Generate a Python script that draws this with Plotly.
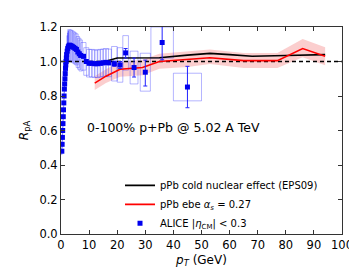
import plotly.graph_objects as go

# ---------------- data ----------------
alice_pt = [0.3, 0.4, 0.5, 0.6, 0.7, 0.8, 0.9, 1.0, 1.1, 1.2, 1.3, 1.4, 1.5, 1.6, 1.7, 1.8, 1.9, 2.0,
            2.2, 2.4, 2.6, 2.8,
            3.0, 3.5, 4.0, 4.5, 5.0, 5.5, 6.0, 6.5, 7.0,
            8.0, 9.0, 10.0, 11.0, 12.0, 13.0, 14.0, 15.0, 16.0, 17.0,
            19.0, 21.0, 23.0, 26.0, 30.0, 36.0, 45.0]
alice_r = [0.48, 0.52, 0.56, 0.60, 0.64, 0.68, 0.72, 0.76, 0.80, 0.84, 0.87, 0.90, 0.93, 0.96, 0.98, 1.00, 1.02, 1.04,
           1.06, 1.075, 1.085, 1.09,
           1.095, 1.092, 1.088, 1.082, 1.076, 1.07, 1.055, 1.045, 1.035,
           1.03, 1.0, 0.99, 0.99, 0.987, 0.987, 0.99, 0.992, 0.995, 0.992,
           0.987, 0.98, 1.05, 0.965, 0.938, 1.11, 0.852]
alice_stat_up = [0.005]*18 + [0.005]*4 + [0.006]*9 + [0.01]*10 + [0.015, 0.02, 0.025, 0.055, 0.07, 0.12, 0.12]
alice_stat_dn = [0.005]*18 + [0.005]*4 + [0.006]*9 + [0.01]*10 + [0.015, 0.02, 0.03, 0.055, 0.08, 0.10, 0.12]
alice_sys = [0.02]*18 + [0.09]*4 + [0.09]*9 + [0.08]*10 + [0.1, 0.1, 0.1, 0.095, 0.11, 0.09, 0.08]
alice_halfwidth = [0.05]*18 + [0.1]*4 + [0.6]*9 + [0.9]*10 + [1.0, 1.0, 1.0, 1.4, 1.8, 4.0, 5.0]

eps09_pt = [10, 15, 20, 25, 35, 45, 53, 60, 68, 80, 94]
eps09_r = [0.99, 0.997, 1.02, 1.022, 1.022, 1.037, 1.047, 1.04, 1.03, 1.035, 1.04]

ebe_pt = [12, 16, 21, 29, 35, 45, 53, 65, 77, 86, 94]
ebe_r = [0.875, 0.915, 0.955, 0.965, 1.0, 1.012, 1.022, 1.005, 1.005, 1.075, 1.03]
ebe_lo = [0.835, 0.875, 0.912, 0.92, 0.958, 0.968, 0.985, 0.962, 0.962, 1.025, 0.978]
ebe_hi = [0.915, 0.955, 0.998, 1.01, 1.045, 1.058, 1.07, 1.05, 1.05, 1.13, 1.083]

x_ticks = [0, 10, 20, 30, 40, 50, 60, 70, 80, 90, 100]
y_ticks = [0.0, 0.2, 0.4, 0.6, 0.8, 1.0, 1.2]

# ---------------- figure ----------------
fig = go.Figure()

# red band
fig.add_trace(go.Scatter(x=ebe_pt + ebe_pt[::-1], y=ebe_hi + ebe_lo[::-1], fill="toself",
                         fillcolor="rgba(240,60,60,0.25)", line=dict(width=0),
                         hoverinfo="skip", showlegend=False))

# ALICE systematic boxes
bx, by = [], []
for p, r, s, h in zip(alice_pt, alice_r, alice_sys, alice_halfwidth):
    bx += [p - h, p + h, p + h, p - h, p - h, None]
    by += [r - s, r - s, r + s, r + s, r - s, None]
fig.add_trace(go.Scatter(x=bx, y=by, mode="lines", line=dict(color="rgba(60,60,255,0.38)", width=1),
                         hoverinfo="skip", showlegend=False))

# dashed unity line
fig.add_trace(go.Scatter(x=[x_ticks[0], x_ticks[-1]], y=[1.0, 1.0], mode="lines",
                         line=dict(color="black", width=1.5, dash="4px,3px"),
                         hoverinfo="skip", showlegend=False))

fig.add_trace(go.Scatter(x=eps09_pt, y=eps09_r, mode="lines", line=dict(color="black", width=1.6),
                         name="pPb cold nuclear effect (EPS09)"))
fig.add_trace(go.Scatter(x=ebe_pt, y=ebe_r, mode="lines", line=dict(color="red", width=1.6),
                         name="pPb ebe <i>α<sub>s</sub></i> = 0.27"))
fig.add_trace(go.Scatter(x=alice_pt, y=alice_r, mode="markers",
                         marker=dict(symbol="square", size=5, color="#0000ee", line=dict(width=0)),
                         error_y=dict(type="data", symmetric=False, array=alice_stat_up,
                                      arrayminus=alice_stat_dn, color="#2222ff", thickness=1, width=2),
                         name="ALICE |<i>η</i><sub>CM</sub>| < 0.3"))

fig.add_annotation(x=40, y=0.62, xref="x", yref="y", text="0-100% p+Pb @ 5.02 A TeV",
                   showarrow=False, font=dict(size=12.5, color="black"))

axis_common = dict(showline=True, linecolor="#333333", linewidth=1, mirror="ticks",
                   ticks="inside", ticklen=4, tickcolor="#333333", showgrid=False, zeroline=False,
                   tickfont=dict(size=11.5, color="black"))

fig.update_xaxes(range=[0, 100], tickvals=x_ticks, ticktext=[str(v) for v in x_ticks],
                 title=dict(text="<i>p<sub>T</sub></i> (GeV)", font=dict(size=12), standoff=4),
                 **axis_common)
fig.update_yaxes(range=[0, 1.2], tickvals=y_ticks, ticktext=[f"{v:.1f}" for v in y_ticks],
                 title=dict(text="<i>R</i><sub>pA</sub>", font=dict(size=12), standoff=8),
                 **axis_common)

fig.update_layout(
    width=357, height=268,
    margin=dict(l=53, r=18, t=13, b=33),
    paper_bgcolor="white", plot_bgcolor="white",
    font=dict(family="DejaVu Sans", color="black"),
    showlegend=True,
    legend=dict(x=0.21, y=0.305, xanchor="left", yanchor="top", bgcolor="rgba(0,0,0,0)",
                font=dict(size=10), tracegroupgap=0, itemwidth=30),
)

fig.write_html("out.html")
